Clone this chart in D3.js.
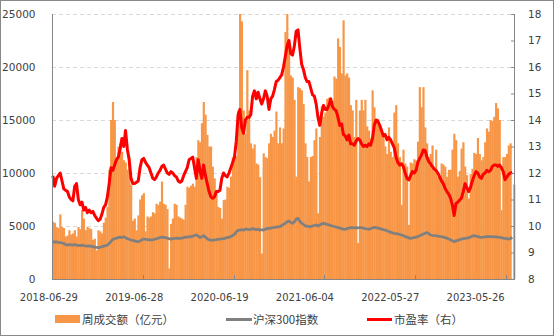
<!DOCTYPE html>
<html><head><meta charset="utf-8">
<script src="https://cdn.jsdelivr.net/npm/d3@7"></script>
<style>
html,body{margin:0;padding:0;background:#fff;}
svg{display:block;}
</style></head>
<body>
<svg id="c" width="554" height="336"></svg>
<script>
// ---- data ----
const xTickLabels = ["2018-06-29","2019-06-28","2020-06-19","2021-06-04","2022-05-27","2023-05-26"];
const xLabelIndex = [0, 47, 94, 141, 188, 235];
const xTickIndex = [0, 50, 100, 150, 200, 250];
const leftTicks = [0, 5000, 10000, 15000, 20000, 25000];
const rightTicks = [8, 9, 10, 11, 12, 13, 14, 15, 16, 17, 18];
const seriesNames = ["周成交额（亿元）", "沪深300指数", "市盈率（右）"];

// weekly turnover (亿元), 255 weeks
const turnover = [
5400,5300,4900,4800,6100,4900,4800,4000,4100,4600,
4200,4300,4600,4000,4900,4700,6500,5700,4600,4900,
4800,4700,3700,3800,2700,4600,4500,4300,5300,5800,
6800,10300,15000,16700,15000,11500,12500,12800,12000,11200,
11000,10300,11500,8900,5500,5700,4600,6000,7500,7900,
8100,4500,5900,5800,5900,6300,6200,7100,7000,7300,
9200,7100,7000,6600,1000,5200,5700,7100,7000,5900,
5800,5700,5600,7000,8700,8600,8800,9000,8700,11500,
13100,12900,14700,16700,15500,13600,12500,12500,10600,9500,
8200,6800,6700,5700,7450,7500,8700,8600,9650,11500,
11500,11600,15900,25000,24300,15900,13700,19700,15900,12800,
12300,12700,10900,10800,9600,2400,11850,11500,11400,12800,
13700,13400,14000,15800,12800,14300,12800,14200,23300,25000,
22000,19200,19000,16900,9650,18100,18000,17800,16500,12800,
11500,9200,11500,11600,13100,14200,6200,13400,16300,15300,
15700,17000,17100,17000,16800,19100,18900,22700,21900,19400,
24400,19200,19400,19000,16400,15900,13400,16900,3400,15900,
16900,15900,16900,14400,14000,13300,17800,16200,15000,15100,
14300,13900,13800,12500,11800,14300,12000,11500,15700,16400,
12800,11500,7000,12200,10900,10600,5100,11000,10900,11300,
11200,12950,18100,16200,18100,14300,12800,11500,11800,12600,
10600,12200,9650,9700,10900,10800,10600,9650,10300,10300,
12200,13700,13100,9650,10200,12300,12900,10600,9800,7600,
9900,10400,11900,11800,13300,11800,11200,11500,12900,14200,
13900,15000,14900,15300,16600,16100,15000,6500,11500,11500,
11800,12600,12800,0,8900
];

// CSI 300 index (left axis), 254 weeks
const csi300 = [
3520,3480,3500,3450,3430,3400,3350,3250,3200,3250,
3230,3200,3250,3200,3180,3150,3200,3150,3120,3100,
3130,3100,3050,3000,2980,2950,3000,3050,3100,3150,
3200,3350,3550,3740,3800,3850,3900,3950,3900,4000,
3900,3800,3750,3680,3650,3600,3550,3520,3600,3700,
3770,3750,3700,3720,3680,3700,3750,3800,3850,3900,
3950,3930,3900,3850,3800,3770,3800,3820,3850,3830,
3830,3850,3900,3950,3950,3980,4000,4050,4100,4150,
4050,3900,4000,4090,3950,3800,3700,3680,3650,3700,
3720,3750,3770,3780,3800,3850,3900,3950,4000,4100,
4210,4450,4600,4620,4650,4600,4700,4700,4650,4690,
4750,4700,4650,4700,4600,4650,4620,4700,4750,4800,
4780,4850,4870,4900,4920,4940,5050,5150,5250,5400,
5470,5350,5250,5400,5650,5720,5450,5250,5150,5000,
5000,4950,4940,5000,5050,5100,5000,5100,5200,5250,
5200,5150,5100,5050,5000,4950,4900,4870,4800,4750,
4700,4690,4750,4800,4840,4850,4820,4850,4830,4840,
4840,4800,4760,4720,4690,4750,4820,4870,4850,4800,
4750,4700,4650,4620,4550,4480,4420,4350,4300,4280,
4250,4200,4150,4100,4000,3950,3880,3830,3880,3900,
3950,4000,4080,4150,4250,4320,4370,4280,4150,4120,
4100,4080,4050,4020,4000,3950,3900,3850,3770,3700,
3600,3520,3600,3650,3700,3770,3800,3830,3850,3900,
3950,4050,4090,4050,4000,3950,3930,3950,3980,4000,
4000,4000,3980,4000,3980,3950,3930,3900,3850,3820,
3800,3770,3800,3930
];

// P/E ratio (right axis), 254 weeks
const pe = [
11.9,11.5,11.8,11.9,12.0,11.7,11.4,11.35,11.3,11.1,
11.0,10.95,11.5,11.6,11.0,10.8,10.9,10.6,10.7,10.5,
10.6,10.5,10.55,10.4,10.3,10.2,10.25,10.45,10.7,10.8,
11.1,11.6,12.2,12.1,12.3,12.5,12.6,12.9,13.3,13.0,
13.6,12.9,12.5,11.8,11.6,11.6,11.65,11.7,12.2,12.5,
12.55,12.4,12.3,12.2,12.0,11.8,11.75,11.85,12.0,12.1,
12.25,12.3,12.15,12.0,11.95,12.05,12.0,11.9,11.85,11.7,
11.65,11.7,11.9,12.05,12.2,12.5,12.55,12.6,12.2,11.8,
12.5,12.1,11.8,12.3,11.9,11.6,11.3,11.1,11.05,11.1,
11.3,11.3,11.35,11.8,12.0,11.9,11.85,12.0,12.2,12.4,
12.6,13.2,14.2,14.4,13.7,13.5,14.0,14.1,14.1,14.2,
14.9,15.1,14.8,15.05,14.8,14.6,14.8,15.1,14.9,14.4,
14.8,14.9,15.15,15.45,15.5,15.6,15.7,16.0,16.4,16.8,
17.0,16.5,16.45,16.8,17.35,17.4,16.7,16.1,15.9,15.6,
15.45,15.45,15.2,14.95,14.9,14.6,14.1,13.8,14.25,14.55,
14.4,14.4,14.55,14.8,14.5,14.4,14.35,14.1,13.8,13.85,
13.45,13.4,13.25,13.43,13.1,13.1,13.05,13.2,13.3,13.25,
13.1,13.0,13.05,13.0,13.1,13.05,13.3,13.8,14.0,13.95,
13.8,13.6,13.4,13.45,13.25,13.35,13.25,13.1,12.95,12.6,
12.4,12.3,12.35,12.24,12.0,11.8,11.74,11.9,12.05,12.0,
12.1,12.4,12.55,12.68,12.87,12.85,12.6,12.43,12.35,12.24,
12.15,12.1,12.0,11.85,11.7,11.6,11.42,11.3,11.2,11.05,
10.8,10.4,10.85,10.9,10.98,11.05,11.3,11.6,11.45,11.3,
11.45,11.7,11.9,12.05,12.0,11.85,11.8,11.95,12.0,12.1,
12.05,12.1,12.25,12.3,12.3,12.25,12.3,12.2,12.05,11.75,
11.85,11.95,12.0,12.02
];

// ---- chart ----
const svg = d3.select("#c");
const W = 554, H = 336;
const L = 52, R = 515, T = 14, B = 279;

svg.append("rect").attr("x",0.5).attr("y",0.5).attr("width",W-1).attr("height",H-1)
  .attr("fill","#fff").attr("stroke","#898989").attr("stroke-width",1);

const x = d3.scaleBand().domain(d3.range(turnover.length)).range([L, R]).padding(0);
const yL = d3.scaleLinear().domain([0, 25000]).range([B, T]);
const yR = d3.scaleLinear().domain([8, 18]).range([B, T]);

// gridlines
svg.append("g").selectAll("line").data(leftTicks.filter(d => d > 0)).join("line")
  .attr("x1", L).attr("x2", R)
  .attr("y1", d => Math.round(yL(d)) + 0.5).attr("y2", d => Math.round(yL(d)) + 0.5)
  .attr("stroke", "#d9d9d9").attr("stroke-width", 1).attr("stroke-dasharray", "4,3");

// bars
svg.append("g").selectAll("rect").data(turnover).join("rect")
  .attr("x", (d, i) => x(i))
  .attr("width", x.bandwidth() + 0.35)
  .attr("y", d => yL(d))
  .attr("height", d => B - yL(d))
  .attr("fill", "#F79646");

// lines
const lineL = d3.line().x((d, i) => x(i) + x.bandwidth() / 2).y(d => yL(d)).curve(d3.curveLinear);
const lineR = d3.line().x((d, i) => x(i) + x.bandwidth() / 2).y(d => yR(d)).curve(d3.curveLinear);
svg.append("path").datum(csi300).attr("d", lineL).attr("fill", "none")
  .attr("stroke", "#808080").attr("stroke-width", 2.75).attr("stroke-linejoin", "round");
svg.append("path").datum(pe).attr("d", lineR).attr("fill", "none")
  .attr("stroke", "#FF0000").attr("stroke-width", 3).attr("stroke-linejoin", "round");

// axes
const axisColor = "#868686";
const textColor = "#404040";
const numFont = "DejaVu Sans, Verdana, sans-serif";

const gL = svg.append("g").attr("transform", `translate(${L},0)`)
  .call(d3.axisLeft(yL).tickValues(leftTicks).tickSize(0).tickPadding(16.5).tickFormat(d3.format("d")));
gL.select(".domain").remove();
gL.selectAll("text").attr("fill", textColor).style("font-family", numFont).style("font-size", "10.5px");

const gR = svg.append("g").attr("transform", `translate(${R},0)`)
  .call(d3.axisRight(yR).tickValues(rightTicks).tickSize(-4).tickPadding(13).tickFormat(d3.format("d")));
gR.select(".domain").remove();
gR.selectAll("line").attr("stroke", axisColor);
gR.selectAll("text").attr("fill", textColor).style("font-family", numFont).style("font-size", "10.5px");

// axis lines
svg.append("line").attr("x1", L + 0.5).attr("x2", L + 0.5).attr("y1", T).attr("y2", B + 0.5).attr("stroke", axisColor);
svg.append("line").attr("x1", R - 0.5).attr("x2", R - 0.5).attr("y1", T).attr("y2", B + 0.5).attr("stroke", axisColor);
svg.append("line").attr("x1", L).attr("x2", R).attr("y1", B + 0.5).attr("y2", B + 0.5).attr("stroke", axisColor);

// x ticks
svg.append("g").selectAll("line").data(xTickIndex).join("line")
  .attr("x1", d => Math.round(x(d)) + 0.5).attr("x2", d => Math.round(x(d)) + 0.5)
  .attr("y1", B - 4).attr("y2", B).attr("stroke", axisColor);

// x labels
svg.append("g").selectAll("text").data(xTickLabels).join("text")
  .attr("x", (d, i) => x(xLabelIndex[i]) + x.bandwidth() / 2 - 4)
  .attr("y", 300.5)
  .attr("text-anchor", "middle")
  .attr("fill", textColor)
  .style("font-family", numFont).style("font-size", "10px")
  .text(d => d);

// legend
const lg = svg.append("g").style("font-family", "'Noto Sans CJK SC', sans-serif").style("font-size", "11.5px");
lg.append("rect").attr("x", 55).attr("y", 315).attr("width", 25).attr("height", 8).attr("fill", "#F79646");
lg.append("text").attr("x", 82).attr("y", 323.5).attr("fill", textColor).text(seriesNames[0]);
lg.append("line").attr("x1", 226).attr("x2", 252).attr("y1", 319.5).attr("y2", 319.5)
  .attr("stroke", "#808080").attr("stroke-width", 3);
lg.append("text").attr("x", 253).attr("y", 323.5).attr("fill", textColor).text(seriesNames[1]);
lg.append("line").attr("x1", 367).attr("x2", 392).attr("y1", 319.5).attr("y2", 319.5)
  .attr("stroke", "#FF0000").attr("stroke-width", 3);
lg.append("text").attr("x", 394).attr("y", 323.5).attr("fill", textColor).text(seriesNames[2]);
</script>
</body></html>
